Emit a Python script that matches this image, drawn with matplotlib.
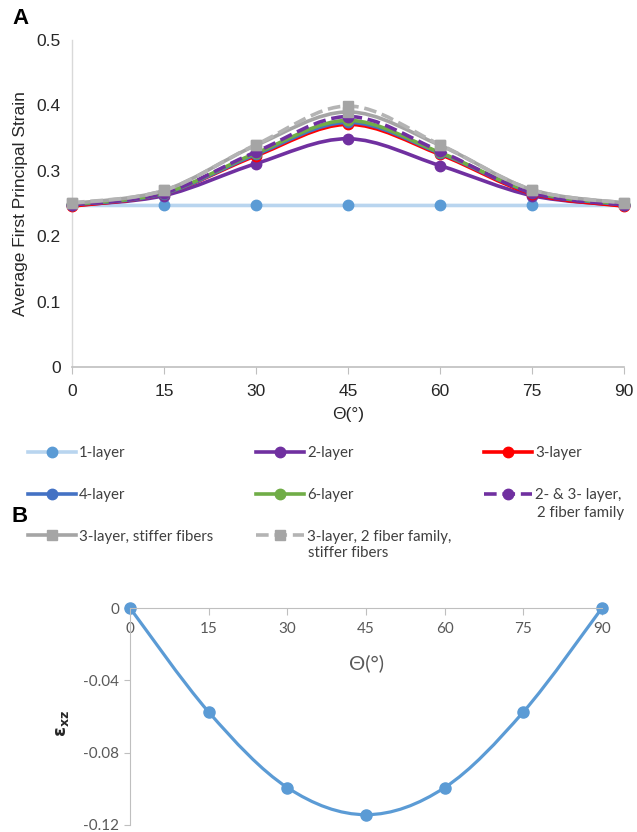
import numpy as np
import matplotlib.pyplot as plt
from matplotlib.path import Path
from matplotlib.patches import PathPatch
from matplotlib.lines import Line2D

theta = [0, 15, 30, 45, 60, 75, 90]
one_layer = [0.247, 0.247, 0.247, 0.247, 0.247, 0.247, 0.247]
two_layer = [0.247, 0.262, 0.311, 0.349, 0.308, 0.262, 0.247]
three_layer = [0.246, 0.265, 0.323, 0.371, 0.325, 0.265, 0.246]
four_layer = [0.248, 0.265, 0.325, 0.374, 0.327, 0.267, 0.248]
six_layer = [0.249, 0.266, 0.327, 0.377, 0.328, 0.268, 0.249]
two_three_2ff = [0.248, 0.266, 0.329, 0.383, 0.330, 0.266, 0.248]
three_stiff = [0.250, 0.270, 0.339, 0.390, 0.339, 0.271, 0.251]
three_2ff_stiff = [0.251, 0.270, 0.340, 0.399, 0.340, 0.271, 0.251]
shear_xz = [0, -0.0575, -0.0993, -0.1143, -0.0993, -0.0575, 0]

W, H = 637, 832


def smooth_path(x, y):
    # excel-like smoothed line: cubic bezier through every point
    pts = np.column_stack([x, y]).astype(float)
    n = len(pts)
    verts = [pts[0]]
    codes = [Path.MOVETO]
    for i in range(n - 1):
        p0 = pts[max(i - 1, 0)]
        p1 = pts[i]
        p2 = pts[i + 1]
        p3 = pts[min(i + 2, n - 1)]
        verts += [p1 + (p2 - p0) / 6, p2 - (p3 - p1) / 6, p2]
        codes += [Path.CURVE4] * 3
    return Path(verts, codes)


def draw_series(ax, x, y, color, mcolor=None, ls='-', lw=2.6, marker='o', ms=7.5, z=2):
    mcolor = mcolor or color
    ax.add_patch(PathPatch(smooth_path(x, y), fill=False, edgecolor=color, lw=lw,
                           linestyle=ls, zorder=z, capstyle='butt', clip_on=False))
    ax.plot(x, y, linestyle='none', marker=marker, ms=ms, mfc=mcolor, mec=mcolor,
            zorder=z + 0.1, clip_on=False)
    return Line2D([], [], color=color, lw=lw, ls=ls, marker=marker, ms=ms,
                  mfc=mcolor, mec=mcolor)


dash = (0, (3.5, 1.6))
fig = plt.figure(figsize=(W / 100, H / 100), dpi=100)

# ---- panel A
ax1 = fig.add_axes([72 / W, 1 - 367 / H, 552 / W, 327 / H])
h1 = draw_series(ax1, theta, one_layer, '#b9d5ef', mcolor='#5b9bd5', z=2)
h2 = draw_series(ax1, theta, two_layer, '#7030a0', z=3)
h3 = draw_series(ax1, theta, three_layer, '#ff0000', z=4)
h4 = draw_series(ax1, theta, four_layer, '#4472c4', z=5)
h6 = draw_series(ax1, theta, six_layer, '#70ad47', z=6)
h23 = draw_series(ax1, theta, two_three_2ff, '#7030a0', ls=dash, z=7)
hs = draw_series(ax1, theta, three_stiff, '#a5a5a5', marker='s', z=8)
hs2 = draw_series(ax1, theta, three_2ff_stiff, '#b4b4b4', mcolor='#a5a5a5', ls=dash, marker='s', z=9)

ax1.set_xlim(0, 90)
ax1.set_ylim(0, 0.5)
ax1.set_xticks(theta)
ax1.set_yticks([0, 0.1, 0.2, 0.3, 0.4, 0.5])
ax1.set_yticklabels(['0', '0.1', '0.2', '0.3', '0.4', '0.5'])
for s in ['top', 'right']:
    ax1.spines[s].set_visible(False)
ax1.spines['left'].set_color('#d9d9d9')
ax1.spines['bottom'].set_color('#bfbfbf')
ax1.spines['left'].set_linewidth(1)
ax1.spines['bottom'].set_linewidth(1.2)
ax1.tick_params(axis='y', length=0, pad=8, labelsize=12.5, labelcolor='#262626')
ax1.tick_params(axis='x', length=5, color='#bfbfbf', pad=7, labelsize=12.5, labelcolor='#262626')
for lab in ax1.get_xticklabels() + ax1.get_yticklabels():
    lab.set_family('Liberation Sans')
ax1.set_xlabel('Θ(°)', fontsize=12.5, family='Liberation Sans', color='#262626', labelpad=6)
ax1.set_ylabel('Average First Principal Strain', fontsize=12.5, family='Liberation Sans',
               color='#262626', labelpad=6)

# legend, three columns placed like the original
leg_font = {'family': 'Lato', 'size': 10.8}
leg_kw = dict(frameon=False, loc='upper left', handlelength=3.2, handletextpad=0.2,
              labelspacing=1.85, borderpad=0, borderaxespad=0, labelcolor='#404040',
              prop=leg_font)
cols = [
    ([h1, h4, hs], ['1-layer', '4-layer', '3-layer, stiffer fibers'], 28),
    ([h2, h6, hs2], ['2-layer', '6-layer', '3-layer, 2 fiber family,'], 256),
    ([h3, h23], ['3-layer', '2- & 3- layer,'], 484),
]
for hands, labs, x0 in cols:
    fig.legend(hands, labs, bbox_to_anchor=(x0 / W, 1 - 446 / H), **leg_kw)
# second lines of the wrapped legend labels
fig.text(308 / W, 1 - 553 / H, 'stiffer fibers', ha='left', va='center', color='#404040', **leg_font)
fig.text(537 / W, 1 - 513 / H, '2 fiber family', ha='left', va='center', color='#404040', **leg_font)

# ---- panel B
ax2 = fig.add_axes([130 / W, 1 - 825 / H, 472 / W, 217 / H])
draw_series(ax2, theta, shear_xz, '#5b9bd5', lw=2.3, ms=8)
ax2.set_xlim(0, 90)
ax2.set_ylim(-0.12, 0)
ax2.set_xticks(theta)
ax2.set_yticks([0, -0.04, -0.08, -0.12])
ax2.set_yticklabels(['0', '-0.04', '-0.08', '-0.12'])
ax2.spines['top'].set_visible(False)
ax2.spines['right'].set_visible(False)
ax2.spines['bottom'].set_position(('data', 0))
ax2.spines['bottom'].set_color('#bfbfbf')
ax2.spines['left'].set_color('#bfbfbf')
ax2.tick_params(axis='x', length=5, color='#bfbfbf', pad=5, labelsize=11, labelcolor='#595959')
ax2.tick_params(axis='y', length=4, color='#bfbfbf', pad=4, labelsize=11, labelcolor='#595959')
for lab in ax2.get_xticklabels() + ax2.get_yticklabels():
    lab.set_family('Lato')
ax2.text(0.5, 1 - 55 / 217, 'Θ(°)', transform=ax2.transAxes, ha='center', va='center',
         fontsize=14.5, family='Lato', color='#595959')
fig.text(62 / W, 1 - 723 / H, '$\\mathregular{ε_{xz}}$', rotation=90, ha='center', va='center',
         fontsize=13, fontweight='bold', color='#262626')

fig.text(12 / W, 1 - 18 / H, 'A', fontsize=16, fontweight='bold', family='Liberation Sans',
         va='center', ha='left')
fig.text(12 / W, 1 - 516 / H, 'B', fontsize=16, fontweight='bold', family='Liberation Sans',
         va='center', ha='left')

plt.savefig('out.png', dpi=100)
